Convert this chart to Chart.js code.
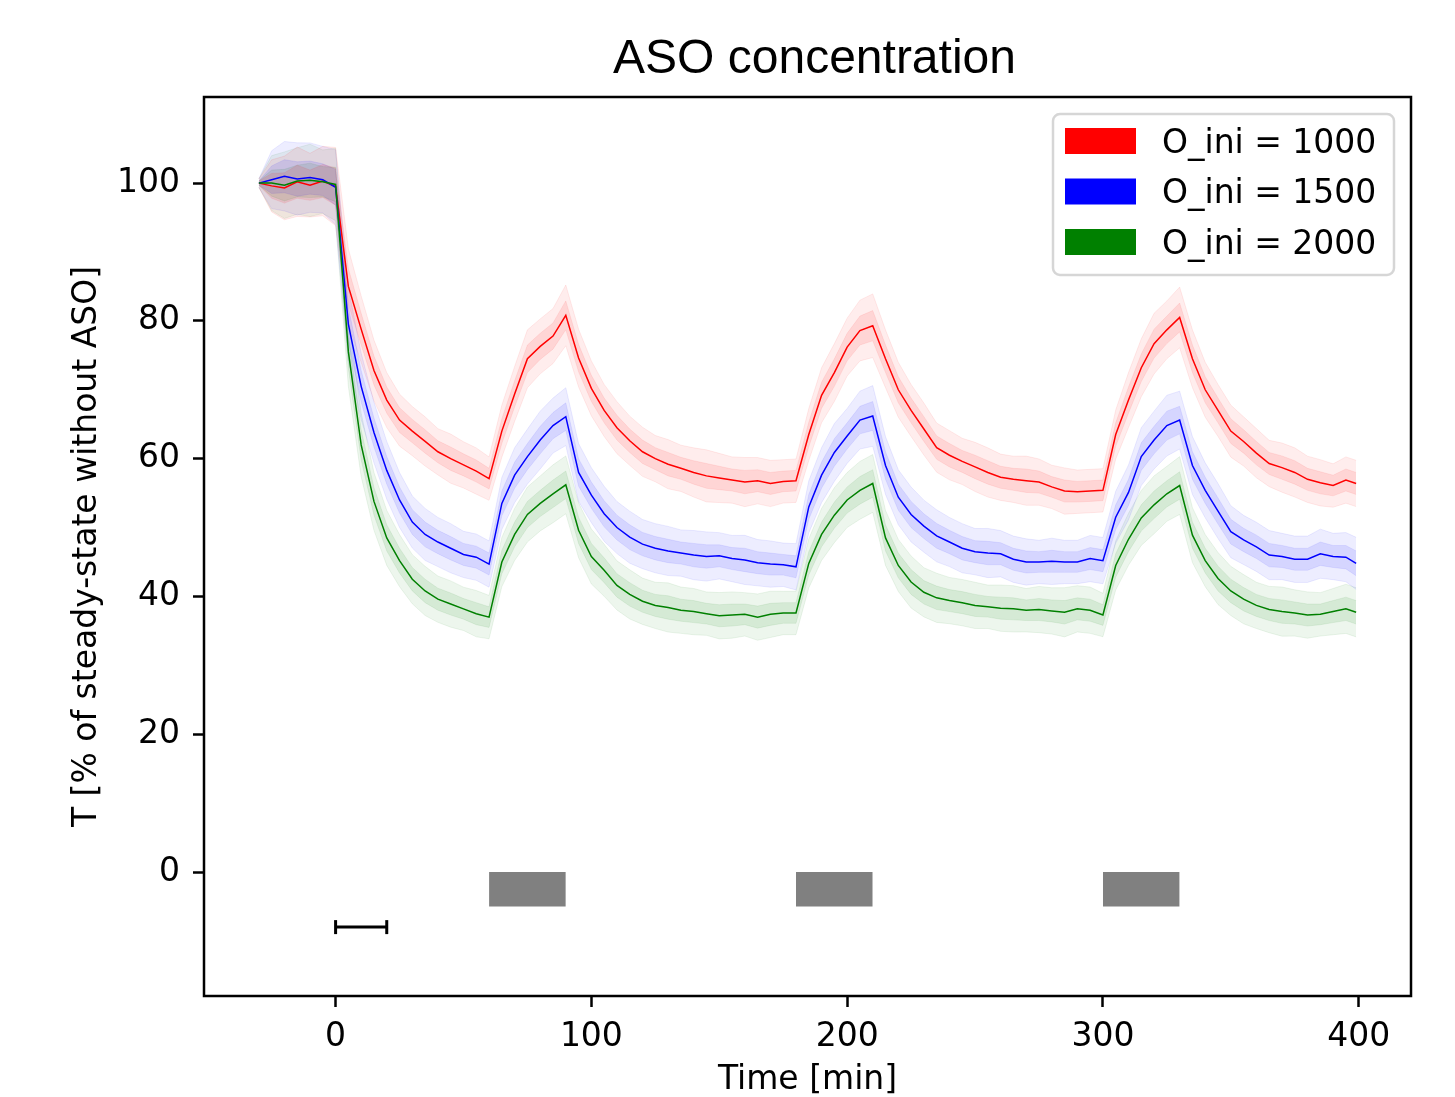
<!DOCTYPE html>
<html>
<head>
<meta charset="utf-8">
<script src="https://cdn.jsdelivr.net/npm/chart.js@4.4.1/dist/chart.umd.min.js"></script>
<style>
  html, body { margin: 0; padding: 0; background: #fff; }
  canvas { display: block; }
</style>
</head>
<body>
<canvas id="asoChart" width="1455" height="1097"></canvas>
<script>
// time points [min]
const timeMin = [
  -30, -25, -20, -15, -10, -5, 0,
  5, 10, 15, 20, 25, 30, 35, 40, 45, 50, 55, 60,
  65, 70, 75, 80, 85, 90,
  95, 100, 105, 110, 115, 120, 125, 130, 135, 140, 145, 150, 155, 160, 165, 170, 175, 180,
  185, 190, 195, 200, 205, 210,
  215, 220, 225, 230, 235, 240, 245, 250, 255, 260, 265, 270, 275, 280, 285, 290, 295, 300,
  305, 310, 315, 320, 325, 330,
  335, 340, 345, 350, 355, 360, 365, 370, 375, 380, 385, 390, 395, 399
];

const seriesLabels = ['O_ini = 1000', 'O_ini = 1500', 'O_ini = 2000'];
const seriesColors = [[255, 0, 0], [0, 0, 255], [0, 128, 0]];

// mean T [% of steady state]
const meanO1000 = [
  100.0, 99.6, 99.3, 100.2, 99.7, 100.3, 99.5,
  85.0, 78.8, 72.8, 68.5, 65.6, 64.0, 62.5, 61.0, 60.0, 59.1, 58.2, 57.1,
  64.0, 69.4, 74.5, 76.3, 77.8, 80.8,
  74.6, 70.2, 67.0, 64.5, 62.6, 61.0, 60.0, 59.2, 58.6, 58.0, 57.5, 57.2, 56.9, 56.6, 56.8, 56.4, 56.7, 56.8,
  63.5, 69.2, 72.5, 76.2, 78.6, 79.3,
  74.5, 70.0, 67.0, 64.3, 61.6, 60.5, 59.6, 58.8, 58.0, 57.3, 57.0, 56.8, 56.6, 55.9, 55.3, 55.2, 55.3, 55.4,
  63.5, 68.5, 73.2, 76.7, 78.7, 80.5,
  74.5, 70.0, 67.0, 64.0, 62.5, 60.8, 59.3, 58.7, 58.0, 57.0, 56.5, 56.1, 56.9, 56.4
];
const meanO1500 = [
  100.0, 100.5, 101.0, 100.6, 100.8, 100.5, 99.4,
  79.5, 70.5, 63.8, 58.3, 54.0, 50.8, 49.0, 47.9, 47.0, 46.1, 45.7, 44.7,
  53.5, 57.6, 60.3, 62.7, 64.8, 66.1,
  58.0, 54.7, 52.0, 50.0, 48.6, 47.6, 47.0, 46.6, 46.3, 46.0, 45.8, 45.9, 45.5, 45.3, 44.9, 44.7, 44.6, 44.3,
  53.0, 57.6, 60.9, 63.3, 65.6, 66.2,
  59.0, 54.4, 51.9, 50.2, 48.8, 47.9, 47.0, 46.5, 46.3, 46.2, 45.4, 45.0, 45.0, 45.1, 45.0, 45.0, 45.5, 45.2,
  51.5, 55.1, 60.3, 62.7, 64.8, 65.6,
  59.0, 55.4, 52.4, 49.4, 48.2, 47.2, 46.0, 45.8, 45.4, 45.4, 46.2, 45.8, 45.7, 44.8
];
const meanO2000 = [
  100.0, 100.0, 99.7, 100.3, 100.4, 100.2, 99.8,
  75.5, 62.0, 53.8, 48.5, 45.2, 42.5, 40.8, 39.6, 38.9, 38.2, 37.5, 37.0,
  45.0, 49.0, 51.9, 53.5, 54.9, 56.2,
  49.6, 45.8, 43.8, 41.6, 40.3, 39.3, 38.7, 38.4, 38.0, 37.8, 37.5, 37.2, 37.3, 37.4, 37.0, 37.4, 37.6, 37.6,
  44.8, 49.0, 51.8, 54.0, 55.4, 56.4,
  48.5, 44.5, 42.1, 40.6, 39.8, 39.4, 39.1, 38.7, 38.5, 38.3, 38.2, 38.0, 38.1, 37.9, 37.7, 38.2, 38.0, 37.3,
  44.5, 48.3, 51.4, 53.3, 54.9, 56.1,
  48.9, 45.2, 42.6, 40.8, 39.6, 38.7, 38.1, 37.8, 37.6, 37.3, 37.4, 37.8, 38.2, 37.7
];

// standard deviation of T
const sdO1000 = [
  0.3, 1.8, 2.2, 2.4, 2.2, 2.4, 2.7,
  2.6, 2.3, 2.1, 1.9, 1.8, 1.7, 1.7, 1.6, 1.7, 1.6, 1.6, 1.5,
  1.8, 1.9, 2.0, 1.9, 1.9, 2.1,
  2.0, 1.9, 1.8, 1.8, 1.7, 1.7, 1.6, 1.7, 1.6, 1.7, 1.8, 1.7, 1.6, 1.7, 1.6, 1.6, 1.5, 1.5,
  1.8, 1.9, 2.0, 2.0, 2.1, 2.2,
  2.0, 1.9, 1.8, 1.8, 1.7, 1.7, 1.6, 1.7, 1.7, 1.6, 1.6, 1.7, 1.6, 1.5, 1.6, 1.5, 1.5, 1.5,
  1.7, 1.9, 2.0, 2.1, 2.0, 2.1,
  2.0, 1.9, 1.8, 1.8, 1.7, 1.7, 1.6, 1.7, 1.7, 1.6, 1.6, 1.5, 1.6, 1.6
];
const sdO1500 = [
  0.3, 2.0, 2.4, 2.5, 2.4, 2.3, 2.6,
  2.5, 2.3, 2.1, 2.0, 1.9, 1.8, 1.8, 1.7, 1.7, 1.6, 1.6, 1.6,
  1.8, 1.9, 1.9, 2.0, 1.9, 2.0,
  2.0, 1.9, 1.9, 1.8, 1.8, 1.7, 1.7, 1.7, 1.6, 1.7, 1.7, 1.6, 1.6, 1.7, 1.6, 1.6, 1.5, 1.6,
  1.8, 1.9, 2.0, 1.9, 2.0, 2.1,
  2.0, 1.9, 1.9, 1.8, 1.8, 1.7, 1.7, 1.6, 1.7, 1.6, 1.6, 1.6, 1.5, 1.6, 1.5, 1.5, 1.6, 1.6,
  1.8, 1.9, 2.0, 2.0, 2.1, 2.0,
  2.0, 1.9, 1.9, 1.8, 1.7, 1.7, 1.7, 1.6, 1.6, 1.6, 1.7, 1.6, 1.7, 1.8
];
const sdO2000 = [
  0.3, 1.9, 2.3, 2.3, 2.5, 2.2, 2.5,
  2.4, 2.2, 2.0, 1.9, 1.8, 1.7, 1.7, 1.6, 1.6, 1.5, 1.6, 1.5,
  1.7, 1.8, 1.9, 1.9, 2.0, 2.0,
  1.9, 1.9, 1.8, 1.7, 1.7, 1.6, 1.6, 1.7, 1.6, 1.6, 1.5, 1.6, 1.6, 1.5, 1.6, 1.6, 1.5, 1.5,
  1.7, 1.8, 1.9, 1.9, 2.0, 2.0,
  1.9, 1.8, 1.8, 1.7, 1.7, 1.6, 1.6, 1.6, 1.5, 1.6, 1.6, 1.5, 1.6, 1.6, 1.7, 1.6, 1.6, 1.5,
  1.7, 1.8, 1.9, 2.0, 1.9, 2.0,
  1.9, 1.8, 1.8, 1.7, 1.7, 1.6, 1.6, 1.7, 1.6, 1.6, 1.5, 1.6, 1.7, 1.7
];

const xTicks = [0, 100, 200, 300, 400];
const yTicks = [0, 20, 40, 60, 80, 100];

// ASO pulses (grey boxes) and the 20 min scale bar
const pulseStarts = [60, 180, 300];
const pulseEnds = [90, 210, 330];
const pulseLevel = -5;
const scaleBarX = [0, 20];
const scaleBarY = -8;

const chartTitle = 'ASO concentration';

const means = [meanO1000, meanO1500, meanO2000];
const sds = [sdO1000, sdO1500, sdO2000];

function rgba(c, a) {
  return 'rgba(' + c[0] + ',' + c[1] + ',' + c[2] + ',' + a + ')';
}
function band(mean, sd, k) {
  return timeMin.map((t, i) => ({ x: t, y: mean[i] + k * sd[i] }));
}

const datasets = [];
means.forEach((mean, s) => {
  const c = seriesColors[s];
  const sd = sds[s];
  const edge = { borderColor: rgba(c, 0.08), borderWidth: 1, pointRadius: 0, tension: 0 };
  // outer band
  datasets.push(Object.assign({ data: band(mean, sd, 2.1), fill: false, order: 20 }, edge));
  datasets.push(Object.assign({ data: band(mean, sd, -2.1), fill: '-1', backgroundColor: rgba(c, 0.07), order: 20 }, edge));
  // inner band
  datasets.push(Object.assign({ data: band(mean, sd, 1), fill: false, order: 10 }, edge));
  datasets.push(Object.assign({ data: band(mean, sd, -1), fill: '-1', backgroundColor: rgba(c, 0.1), order: 10 }, edge));
  // mean line
  datasets.push({
    label: seriesLabels[s],
    data: timeMin.map((t, i) => ({ x: t, y: mean[i] })),
    borderColor: rgba(c, 1),
    borderWidth: 1.5,
    pointRadius: 0,
    tension: 0,
    fill: false,
    order: 2 - s
  });
});

pulseStarts.forEach((start, i) => {
  datasets.push({
    data: [{ x: start, y: pulseLevel }, { x: pulseEnds[i], y: pulseLevel }],
    borderWidth: 0,
    borderColor: 'rgba(0,0,0,0)',
    backgroundColor: '#808080',
    pointRadius: 0,
    fill: 'origin',
    order: 30
  });
});

datasets.push({
  data: scaleBarX.map(x => ({ x: x, y: scaleBarY })),
  borderColor: '#000',
  borderWidth: 3,
  pointStyle: 'line',
  rotation: 90,
  pointRadius: 7,
  pointBorderWidth: 3,
  pointBorderColor: '#000',
  fill: false,
  order: 0
});

const frameAndLegend = {
  id: 'frameAndLegend',
  afterDraw(chart) {
    const ctx = chart.ctx;
    const a = chart.chartArea;
    ctx.save();
    ctx.strokeStyle = '#000';
    ctx.lineWidth = 2.5;
    ctx.strokeRect(a.left, a.top, a.right - a.left, a.bottom - a.top);

    // title, centred over the plot area
    ctx.fillStyle = '#000';
    ctx.font = '48px "Liberation Sans"';
    ctx.textAlign = 'center';
    ctx.textBaseline = 'alphabetic';
    ctx.fillText(chartTitle, (a.left + a.right) / 2 + 7, 73);

    const w = 341, h = 161, r = 7;
    const x0 = a.right - 17 - w, y0 = a.top + 17;
    ctx.beginPath();
    ctx.moveTo(x0 + r, y0);
    ctx.arcTo(x0 + w, y0, x0 + w, y0 + h, r);
    ctx.arcTo(x0 + w, y0 + h, x0, y0 + h, r);
    ctx.arcTo(x0, y0 + h, x0, y0, r);
    ctx.arcTo(x0, y0, x0 + w, y0, r);
    ctx.closePath();
    ctx.fillStyle = 'rgba(255,255,255,0.8)';
    ctx.fill();
    ctx.strokeStyle = 'rgba(204,204,204,0.8)';
    ctx.lineWidth = 2.5;
    ctx.stroke();

    ctx.font = '33px "DejaVu Sans"';
    ctx.textBaseline = 'middle';
    ctx.textAlign = 'left';
    seriesLabels.forEach((label, i) => {
      const cy = y0 + 27 + i * 50.5;
      ctx.fillStyle = rgba(seriesColors[i], 1);
      ctx.fillRect(x0 + 12, cy - 13, 71, 26);
      ctx.fillStyle = '#000';
      ctx.fillText(label, x0 + 109, cy + 3);
    });
    ctx.restore();
  }
};

const tickFont = { family: 'DejaVu Sans', size: 33 };

new Chart(document.getElementById('asoChart').getContext('2d'), {
  type: 'line',
  data: { datasets: datasets },
  options: {
    responsive: false,
    animation: false,
    devicePixelRatio: 1,
    layout: { padding: { left: 0, right: 44, top: 97, bottom: 0 } },
    plugins: {
      legend: { display: false },
      tooltip: { enabled: false },
      title: { display: false }
    },
    scales: {
      x: {
        type: 'linear',
        min: -51.45,
        max: 420.45,
        afterBuildTicks: scale => { scale.ticks = xTicks.map(v => ({ value: v })); },
        afterFit: scale => { scale.height = 101; },
        ticks: { color: '#000', font: tickFont, padding: 11, maxRotation: 0, callback: v => String(v) },
        grid: { display: true, drawOnChartArea: false, drawTicks: true, tickLength: 11, tickWidth: 2.5, tickColor: '#000' },
        border: { display: false },
        title: { display: true, text: 'Time [min]', color: '#000', font: { family: 'DejaVu Sans', size: 33, lineHeight: 1.0 }, padding: { top: 0, bottom: 0 } }
      },
      y: {
        type: 'linear',
        min: -18,
        max: 112.5,
        afterBuildTicks: scale => { scale.ticks = yTicks.map(v => ({ value: v })); },
        afterFit: scale => { scale.width = 204; },
        ticks: { color: '#000', font: tickFont, padding: 13, callback: v => String(v) },
        grid: { display: true, drawOnChartArea: false, drawTicks: true, tickLength: 11, tickWidth: 2.5, tickColor: '#000' },
        border: { display: false },
        title: { display: true, text: 'T [% of steady-state without ASO]', color: '#000', font: tickFont, padding: { top: 68, bottom: 0 } }
      }
    }
  },
  plugins: [frameAndLegend]
});
</script>
</body>
</html>
